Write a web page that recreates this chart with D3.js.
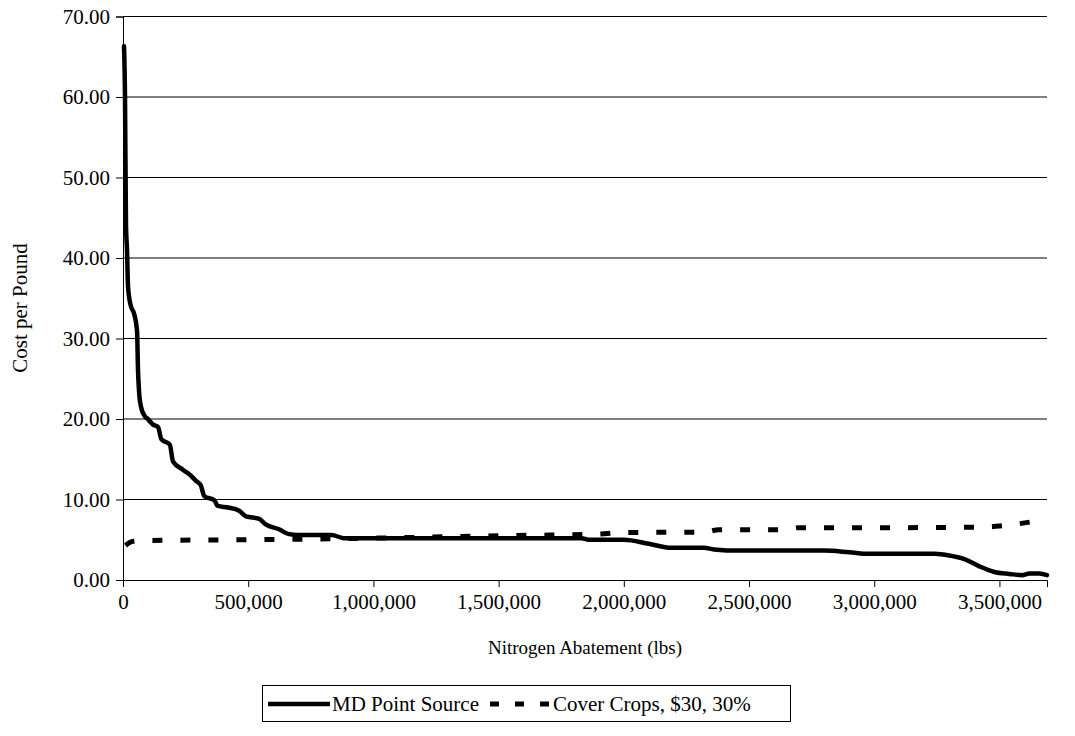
<!DOCTYPE html>
<html>
<head>
<meta charset="utf-8">
<script src="https://cdn.jsdelivr.net/npm/d3@7"></script>
<style>
  html, body { margin: 0; padding: 0; background: #fff; font-family: 'Liberation Serif', 'Times New Roman', serif; }
</style>
</head>
<body>
<svg id="chart" width="1075" height="736"></svg>
<script>
// ---- Data ----
const pointSourceX = [4000, 8000, 12000, 16000, 20000, 30000, 45000, 56000, 60000, 64000, 72000, 88000, 99000, 120000, 140000, 153000, 187000, 200000, 239000, 270000, 292000, 310000, 325000, 365000, 378000, 420000, 464000, 491000, 544000, 570000, 623000, 663000, 700000, 833000, 881000, 1200000, 1500000, 1830000, 1860000, 2000000, 2100000, 2190000, 2320000, 2360000, 2460000, 2600000, 2800000, 2900000, 2980000, 3100000, 3240000, 3300000, 3360000, 3420000, 3480000, 3540000, 3590000, 3620000, 3660000, 3690000];
const pointSourceY = [66.3, 60, 44, 41, 36.5, 34.2, 33, 31, 26, 23.5, 21.5, 20.3, 20, 19.3, 19, 17.5, 16.8, 14.7, 13.7, 13, 12.3, 11.8, 10.4, 9.9, 9.2, 9.0, 8.6, 7.9, 7.6, 6.9, 6.3, 5.7, 5.6, 5.6, 5.2, 5.2, 5.2, 5.2, 5.0, 5.0, 4.5, 4.0, 4.0, 3.8, 3.65, 3.65, 3.65, 3.45, 3.25, 3.25, 3.25, 3.05, 2.6, 1.7, 1.0, 0.75, 0.6, 0.8, 0.8, 0.6];

const coverCropsX = [10000, 40000, 100000, 500000, 1000000, 1500000, 1900000, 2000000, 2320000, 2380000, 2640000, 2700000, 3000000, 3400000, 3500000, 3580000, 3680000];
const coverCropsY = [4.3, 4.8, 4.9, 5.0, 5.2, 5.5, 5.7, 5.9, 5.95, 6.25, 6.25, 6.5, 6.5, 6.55, 6.7, 7.0, 7.5];

const yTicks = [0, 10, 20, 30, 40, 50, 60, 70];
const xTicks = [0, 500000, 1000000, 1500000, 2000000, 2500000, 3000000, 3500000];
const seriesNames = ["MD Point Source", "Cover Crops, $30, 30%"];
const xTitle = "Nitrogen Abatement (lbs)";
const yTitle = "Cost per Pound";

// ---- Layout ----
const FONT = "'Liberation Serif', 'Times New Roman', Times, serif";
const FS = 21;
const plotL = 123, plotR = 1047, plotT = 16.5, plotB = 580;
const svg = d3.select("#chart");

const x = d3.scaleLinear().domain([0, 3690000]).range([plotL, plotR]);
const y = d3.scaleLinear().domain([0, 70]).range([plotB, plotT]);

// gridlines
svg.append("g").selectAll("line").data(yTicks.filter(d => d > 0)).join("line")
  .attr("x1", plotL).attr("x2", plotR)
  .attr("y1", d => y(d)).attr("y2", d => y(d))
  .attr("stroke", "#000").attr("stroke-width", 1);

// y axis
const yAxis = svg.append("g").attr("transform", `translate(${plotL},0)`)
  .call(d3.axisLeft(y).tickValues(yTicks).tickFormat(d3.format(".2f")).tickSizeOuter(0).tickSize(7).tickPadding(6));
yAxis.attr("font-family", FONT).attr("font-size", FS);
yAxis.select(".domain").attr("stroke", "#000");
yAxis.selectAll(".tick line").attr("stroke", "#000");
yAxis.selectAll("text").attr("fill", "#000").style("font-family", FONT).style("font-size", FS + "px");

// x axis
const xAxis = svg.append("g").attr("transform", `translate(0,${plotB})`)
  .call(d3.axisBottom(x).tickValues(xTicks).tickFormat(d3.format(",")).tickSizeOuter(0).tickSize(7).tickPadding(7));
xAxis.attr("font-family", FONT).attr("font-size", FS);
xAxis.select(".domain").attr("stroke", "#000");
xAxis.selectAll(".tick line").attr("stroke", "#000");
xAxis.selectAll("text").attr("fill", "#000").style("font-family", FONT).style("font-size", FS + "px");

// titles
svg.append("text").attr("x", (plotL + plotR) / 2).attr("y", 654)
  .attr("text-anchor", "middle").style("font-family", FONT).style("font-size", "19px").text(xTitle);
svg.append("text").attr("transform", `translate(27,308) rotate(-90)`)
  .attr("text-anchor", "middle").style("font-family", FONT).style("font-size", FS + "px").text(yTitle);

// lines
const ps = pointSourceX.map((d, i) => ({x: d, y: pointSourceY[i]}));
const cc = coverCropsX.map((d, i) => ({x: d, y: coverCropsY[i]}));
const line = d3.line().x(d => x(d.x)).y(d => y(d.y)).curve(d3.curveMonotoneX);

svg.append("path").datum(cc).attr("d", line).attr("fill", "none")
  .attr("stroke", "#000").attr("stroke-width", 5).attr("stroke-dasharray", "10,18");
svg.append("path").datum(ps).attr("d", line).attr("fill", "none")
  .attr("stroke", "#000").attr("stroke-width", 4.5).attr("stroke-linejoin", "round").attr("stroke-linecap", "round");

// legend
const lg = svg.append("g");
lg.append("rect").attr("x", 262.5).attr("y", 685.5).attr("width", 528).attr("height", 36)
  .attr("fill", "#fff").attr("stroke", "#000").attr("stroke-width", 1);
lg.append("line").attr("x1", 268).attr("x2", 330).attr("y1", 704).attr("y2", 704)
  .attr("stroke", "#000").attr("stroke-width", 4.5);
lg.append("text").attr("x", 332).attr("y", 711).style("font-family", FONT).style("font-size", FS + "px").text(seriesNames[0]);
lg.append("line").attr("x1", 490).attr("x2", 551).attr("y1", 704).attr("y2", 704)
  .attr("stroke", "#000").attr("stroke-width", 5).attr("stroke-dasharray", "9,16");
lg.append("text").attr("x", 553).attr("y", 711).style("font-family", FONT).style("font-size", FS + "px").text(seriesNames[1]);
</script>
</body>
</html>
